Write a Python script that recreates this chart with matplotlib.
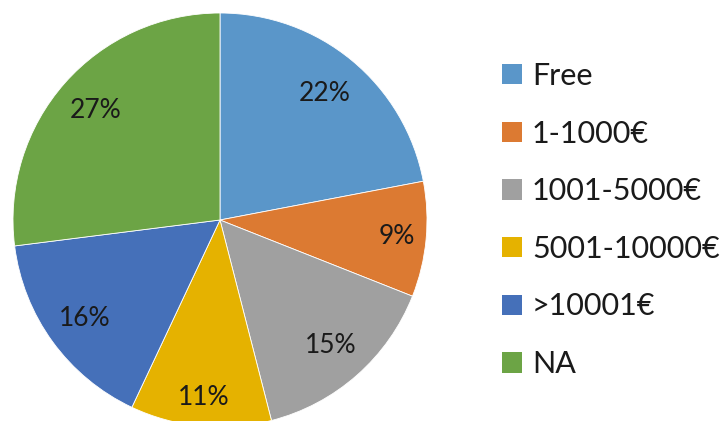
import matplotlib
matplotlib.use("Agg")
import numpy as np
import matplotlib.pyplot as plt
from matplotlib.patches import Patch

categories = ["Free", "1-1000€", "1001-5000€", "5001-10000€", ">10001€", "NA"]
values = [22, 9, 15, 11, 16, 27]
colors = ["#5A96C9", "#DC7A32", "#A0A0A0", "#E5B200", "#4570B9", "#6CA445"]

plt.rcParams['font.family'] = ['Lato', 'DejaVu Sans']

W, H = 724, 421
fig = plt.figure(figsize=(W / 100, H / 100), dpi=100)
cx, cy, r = 220, 220, 207
ax = fig.add_axes([(cx - r) / W, (H - cy - r) / H, 2 * r / W, 2 * r / H])
wedges, texts, autotexts = ax.pie(
    values, colors=colors, startangle=90, counterclock=False,
    autopct=lambda p: f"{p:.0f}%", pctdistance=0.81, radius=1,
    wedgeprops=dict(edgecolor="white", linewidth=0.6),
    textprops=dict(fontsize=19, color="#1a1a1a"),
)
# per-label radial distance (Excel "best fit" placement)
label_dist = [0.79, 0.86, 0.81, 0.86, 0.81, 0.80]
for w, t, d in zip(wedges, autotexts, label_dist):
    ang = np.deg2rad((w.theta1 + w.theta2) / 2)
    t.set_position((d * np.cos(ang), d * np.sin(ang)))
ax.set_xlim(-1, 1)
ax.set_ylim(-1, 1)
ax.set_aspect("equal")
ax.axis("off")
for w in wedges:
    w.set_clip_on(False)

handles = [Patch(facecolor=c, edgecolor="none") for c in colors]
leg = fig.legend(handles, categories, loc="center left",
                 bbox_to_anchor=(502 / W, 1 - 220 / H), frameon=False,
                 fontsize=22, handlelength=0.65, handleheight=0.65,
                 handletextpad=0.33, labelspacing=0.97, borderaxespad=0,
                 borderpad=0)
for t in leg.get_texts():
    t.set_color("#1a1a1a")

fig.savefig("out.png", dpi=100)
